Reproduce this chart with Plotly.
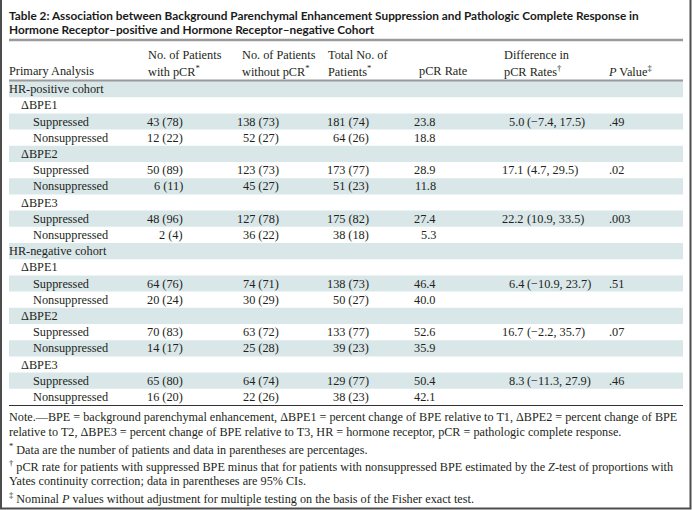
import plotly.graph_objects as go

# ---------------- data ----------------
row_labels = ["HR-positive cohort", "ΔBPE1", "Suppressed", "Nonsuppressed",
              "ΔBPE2", "Suppressed", "Nonsuppressed", "ΔBPE3", "Suppressed", "Nonsuppressed",
              "HR-negative cohort", "ΔBPE1", "Suppressed", "Nonsuppressed",
              "ΔBPE2", "Suppressed", "Nonsuppressed", "ΔBPE3", "Suppressed", "Nonsuppressed"]
row_levels = [0, 1, 2, 2, 1, 2, 2, 1, 2, 2, 0, 1, 2, 2, 1, 2, 2, 1, 2, 2]

with_n = [43, 12, 50, 6, 48, 2, 64, 20, 70, 14, 65, 16]
with_pct = [78, 22, 89, 11, 96, 4, 76, 24, 83, 17, 80, 20]
without_n = [138, 52, 123, 45, 127, 36, 74, 30, 63, 25, 64, 22]
without_pct = [73, 27, 73, 27, 78, 22, 71, 29, 72, 28, 74, 26]
total_n = [181, 64, 173, 51, 175, 38, 138, 50, 133, 39, 129, 38]
total_pct = [74, 26, 77, 23, 82, 18, 73, 27, 77, 23, 77, 23]
pcr_rate = ["23.8", "18.8", "28.9", "11.8", "27.4", "5.3",
            "46.4", "40.0", "52.6", "35.9", "50.4", "42.1"]
diff_est = ["5.0", "17.1", "22.2", "6.4", "16.7", "8.3"]
diff_ci = ["(−7.4, 17.5)", "(4.7, 29.5)", "(10.9, 33.5)",
           "(−10.9, 23.7)", "(−2.2, 35.7)", "(−11.3, 27.9)"]
p_values = [".49", ".02", ".003", ".51", ".07", ".46"]

title_lines = ["Table 2: Association between Background Parenchymal Enhancement Suppression and Pathologic Complete Response in",
               "Hormone Receptor–positive and Hormone Receptor–negative Cohort"]
header_top = ["", "No. of Patients", "No. of Patients", "Total No. of", "", "Difference in", ""]
header_bottom = ["Primary Analysis", "with pCR<sup>*</sup>", "without pCR<sup>*</sup>", "Patients<sup>*</sup>",
                 "pCR Rate", "pCR Rates<sup>†</sup>", "<i>P</i> Value<sup>‡</sup>"]
notes = [
    "Note.—BPE = background parenchymal enhancement, ΔBPE1 = percent change of BPE relative to T1, ΔBPE2 = percent change of BPE",
    "relative to T2, ΔBPE3 = percent change of BPE relative to T3, HR = hormone receptor, pCR = pathologic complete response.",
    "<sup>*</sup> Data are the number of patients and data in parentheses are percentages.",
    "<sup>†</sup> pCR rate for patients with suppressed BPE minus that for patients with nonsuppressed BPE estimated by the <i>Z</i>-test of proportions with",
    "Yates continuity correction; data in parentheses are 95% CIs.",
    "<sup>‡</sup> Nominal <i>P</i> values without adjustment for multiple testing on the basis of the Fisher exact test.",
]

# ---------------- layout constants ----------------
W, H = 692, 510
LEFT, RIGHT = 9, 683
SERIF = "Liberation Serif"
SANS = "Lato"
TXT = "#231f20"
SHADE = "#d9e7e9"
FS = 12.3

row_top = 81
row_h = 16.2
header_x = [LEFT, 148, 242, 328, 419, 504, 608]
indent_x = [LEFT, 21, 33]
right_x = {"with": 183, "without": 279, "total": 369, "rate": 436, "est": 524}
ci_x = 527
p_x = 609

shapes = []
annotations = []


def ann(x, y, text, anchor="left", size=FS, family=SERIF, color=TXT):
    annotations.append(dict(x=x, y=y, xref="x", yref="y", text=text, showarrow=False,
                            xanchor=anchor, yanchor="middle", borderpad=0, borderwidth=0,
                            font=dict(family=family, size=size, color=color)))


# frame
shapes.append(dict(type="rect", x0=1, x1=690.5, y0=-10, y1=508.5, line=dict(color="#4d4d4d", width=2)))

# title
for i, t in enumerate(title_lines):
    ann(LEFT, 15 + 14 * i, "<b>" + t + "</b>", size=11.8, family=SANS, color="#1a1a1a")

# top rule
shapes.append(dict(type="line", x0=LEFT, x1=RIGHT, y0=40, y1=40, line=dict(color="#9a9a9a", width=2.5)))

# header
for i in range(7):
    if header_top[i]:
        ann(header_x[i], 55, header_top[i])
    ann(header_x[i], 70.5, header_bottom[i])
shapes.append(dict(type="line", x0=LEFT, x1=RIGHT, y0=80.5, y1=80.5, line=dict(color="#9a9a9a", width=2)))

# body rows
d = 0
s = 0
for r, (lab, lev) in enumerate(zip(row_labels, row_levels)):
    y0 = row_top + r * row_h
    yc = y0 + row_h / 2
    if r % 2 == 0:
        shapes.append(dict(type="rect", x0=LEFT, x1=RIGHT, y0=y0, y1=y0 + row_h,
                           fillcolor=SHADE, line=dict(width=0), layer="below"))
    ann(indent_x[lev], yc, lab)
    if lev == 2:
        ann(right_x["with"], yc, f"{with_n[d]} ({with_pct[d]})", anchor="right")
        ann(right_x["without"], yc, f"{without_n[d]} ({without_pct[d]})", anchor="right")
        ann(right_x["total"], yc, f"{total_n[d]} ({total_pct[d]})", anchor="right")
        ann(right_x["rate"], yc, pcr_rate[d], anchor="right")
        if lab == "Suppressed":
            ann(right_x["est"], yc, diff_est[s], anchor="right")
            ann(ci_x, yc, diff_ci[s])
            ann(p_x, yc, p_values[s])
            s += 1
        d += 1

bottom = row_top + len(row_labels) * row_h
shapes.append(dict(type="line", x0=LEFT, x1=RIGHT, y0=bottom + 0.5, y1=bottom + 0.5,
                   line=dict(color="#333333", width=1)))

# notes
note_y = [bottom + 12, bottom + 27, bottom + 44, bottom + 61, bottom + 76, bottom + 93]
for y, t in zip(note_y, notes):
    ann(LEFT, y, t, size=12.2)

fig = go.Figure()
fig.update_layout(
    width=W, height=H, margin=dict(l=0, r=0, t=0, b=0),
    paper_bgcolor="white", plot_bgcolor="white",
    xaxis=dict(range=[0, W], visible=False, fixedrange=True),
    yaxis=dict(range=[H, 0], visible=False, fixedrange=True),
    shapes=shapes, annotations=annotations, showlegend=False,
)
fig.write_html("out.html", config={"displayModeBar": False, "staticPlot": True},
               post_script="document.body.style.margin='0';")
